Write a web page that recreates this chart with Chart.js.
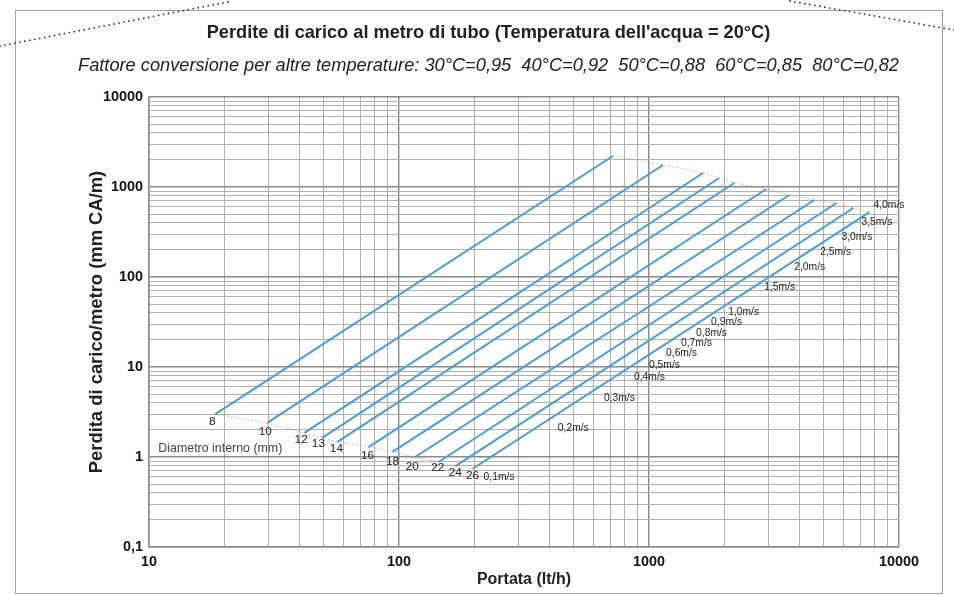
<!DOCTYPE html>
<html>
<head>
<meta charset="utf-8">
<title>Perdite di carico</title>
<script src="https://cdn.jsdelivr.net/npm/chart.js@4"></script>
<style>
  html, body { margin: 0; padding: 0; background: #fff; }
  #wrap { position: relative; width: 954px; height: 595px; }
</style>
</head>
<body>
<div id="wrap"><canvas id="chart"></canvas></div>
<script>
// diametri interni (mm) e estremi delle rette (0,1 m/s -> 4,0 m/s)
const diameters = [8, 10, 12, 13, 14, 16, 18, 20, 22, 24, 26];
const flowStart = [18.4, 29.7, 41.8, 49.3, 56.7, 75.5, 94.2, 116, 144, 168, 197];
const lossStart = [3.0, 2.39, 1.85, 1.63, 1.47, 1.29, 1.14, 1.0, 0.88, 0.79, 0.74];
const flowEnd = [717, 1138, 1645, 1909, 2192, 2944, 3640, 4585, 5620, 6570, 7620];
const lossEnd = [2210, 1755, 1431, 1259, 1108, 950, 815, 717, 664, 584, 527];

// posizione etichette diametri
const diamLabelFlow = [17.9, 29.2, 40.6, 47.6, 56.2, 74.8, 94.2, 113, 143, 168, 197];
const diamLabelLoss = [2.45, 1.90, 1.55, 1.39, 1.23, 1.03, 0.88, 0.774, 0.755, 0.664, 0.615];

// etichette velocita
const velocityLabels = ['0,1m/s', '0,2m/s', '0,3m/s', '0,4m/s', '0,5m/s', '0,6m/s', '0,7m/s', '0,8m/s',
  '0,9m/s', '1,0m/s', '1,5m/s', '2,0m/s', '2,5m/s', '3,0m/s', '3,5m/s', '4,0m/s'];
const velocityFlow = [218, 432, 660, 871, 1000, 1170, 1343, 1543, 1772, 2074, 2891, 3811, 4843, 5884, 7076, 7906];
const velocityLoss = [0.60, 2.10, 4.52, 7.74, 10.5, 14.3, 18.5, 23.9, 31.6, 40.8, 77.4, 129, 190, 278, 408, 631];

// tick labels
const xTickLabels = [10, 100, 1000, 10000];
const yTickLabels = [0.1, 1, 10, 100, 1000, 10000];

const TITLE = "Perdite di carico al metro di tubo (Temperatura dell'acqua = 20°C)";
const SUBTITLE = 'Fattore conversione per altre temperature: 30°C=0,95  40°C=0,92  50°C=0,88  60°C=0,85  80°C=0,82';
const X_TITLE = 'Portata (lt/h)';
const Y_TITLE = 'Perdita di carico/metro (mm CA/m)';

// the original uses a condensed face: use Liberation Sans Narrow when present
const probe = document.createElement('canvas').getContext('2d');
const measure = (font, text) => { probe.font = font; return probe.measureText(text).width; };
const hasNarrow = measure('20px "Liberation Sans Narrow", monospace', TITLE) !== measure('20px monospace', TITLE);
const FONT = hasNarrow ? '"Liberation Sans Narrow", "Liberation Sans", Arial, sans-serif'
                       : '"Liberation Sans", Arial, sans-serif';

// font size that makes a text as wide as in the reference
function fitSize(text, width, weight, style, maxSize) {
  const w = measure(`${style || 'normal'} ${weight || 'normal'} 100px ${FONT}`, text);
  return Math.min(maxSize || 99, Math.round(width / w * 1000) / 10);
}

const sTitle = fitSize(TITLE, 564, 'bold', 'normal', 21);
const sSub = fitSize(SUBTITLE, 825, 'normal', 'italic', 21);
const sXT = fitSize(X_TITLE, 94, 'bold', 'normal', 20);
const sYT = fitSize(Y_TITLE, 302, 'bold', 'normal', 21);
const sTick = fitSize('10000', 40, 'bold', 'normal', 18);
const sVel = fitSize('4,0m/s', 31, 'normal', 'normal', 13);
const sDiamTxt = fitSize('Diametro interno (mm)', 124, 'normal', 'normal', 13);
const sDiam = Math.min(13, sVel + 1.5);

// log grid: 1..9 per decade
function logGrid(labels) {
  const out = [];
  for (let i = 0; i < labels.length - 1; i++) {
    for (let k = 1; k < 10; k++) out.push(+(labels[i] * k).toPrecision(6));
  }
  out.push(labels[labels.length - 1]);
  return out.map(v => ({ value: v }));
}

function isMajor(v, labels) {
  return labels.some(l => Math.abs(l - v) < l * 1e-6);
}

const datasets = diameters.map((d, i) => ({
  label: d + ' mm',
  data: [{ x: flowStart[i], y: lossStart[i] }, { x: flowEnd[i], y: lossEnd[i] }],
  showLine: true,
  borderColor: '#4b9bd6',
  borderWidth: 2,
  pointRadius: 0
}));

// rette 0,1 m/s e 4,0 m/s (unione degli estremi)
datasets.push({
  label: '0,1 m/s',
  data: diameters.map((d, i) => ({ x: flowStart[i], y: lossStart[i] })),
  showLine: true,
  borderColor: 'rgba(190, 130, 100, 0.55)',
  borderWidth: 1,
  borderDash: [2, 2],
  pointRadius: 0
});
datasets.push({
  label: '4,0 m/s',
  data: diameters.map((d, i) => ({ x: flowEnd[i], y: lossEnd[i] })),
  showLine: true,
  borderColor: 'rgba(190, 130, 100, 0.55)',
  borderWidth: 1,
  borderDash: [2, 2],
  pointRadius: 0
});

const decorPlugin = {
  id: 'decor',
  beforeDraw(chart) {
    const ctx = chart.ctx;
    ctx.save();
    ctx.fillStyle = '#fff';
    ctx.fillRect(0, 0, chart.width, chart.height);
    // cornice
    ctx.strokeStyle = '#a0a0a0';
    ctx.lineWidth = 1;
    ctx.strokeRect(15.5, 10.5, 927, 583);
    // linee puntinate in alto
    ctx.fillStyle = '#333';
    const dots = (x1, y1, x2, y2) => {
      const len = Math.hypot(x2 - x1, y2 - y1);
      const n = Math.floor(len / 5);
      for (let k = 0; k <= n; k++) {
        const t = k / n;
        ctx.beginPath();
        ctx.arc(x1 + (x2 - x1) * t, y1 + (y2 - y1) * t, 0.9, 0, Math.PI * 2);
        ctx.fill();
      }
    };
    dots(0, 46, 228, 2);
    dots(790, 1, 954, 30);
    ctx.restore();
  },
  afterDatasetsDraw(chart) {
    const ctx = chart.ctx;
    const xs = chart.scales.x, ys = chart.scales.y;
    ctx.save();
    ctx.fillStyle = '#222';
    ctx.textBaseline = 'middle';
    ctx.textAlign = 'center';
    ctx.font = sDiam + 'px ' + FONT;
    diameters.forEach((d, i) => {
      ctx.fillText(String(d), xs.getPixelForValue(diamLabelFlow[i]), ys.getPixelForValue(diamLabelLoss[i]));
    });
    ctx.textAlign = 'left';
    ctx.font = sVel + 'px ' + FONT;
    velocityLabels.forEach((t, i) => {
      ctx.fillText(t, xs.getPixelForValue(velocityFlow[i]), ys.getPixelForValue(velocityLoss[i]));
    });
    ctx.font = sDiamTxt + 'px ' + FONT;
    ctx.fillStyle = '#444';
    ctx.fillText('Diametro interno (mm)', xs.getPixelForValue(10.9), ys.getPixelForValue(1.23));
    ctx.restore();
  }
};

new Chart(document.getElementById('chart'), {
  type: 'scatter',
  data: { datasets },
  plugins: [decorPlugin],
  options: {
    responsive: true,
    maintainAspectRatio: false,
    animation: false,
    layout: { padding: { left: 78, right: 55, top: 0, bottom: 4 } },
    plugins: {
      legend: { display: false },
      tooltip: { enabled: false },
      title: {
        display: true,
        text: TITLE,
        color: '#222',
        font: { family: FONT, size: sTitle, weight: 'bold' },
        padding: { top: 33 - 0.6 * sTitle, bottom: 33 - 0.6 * (sTitle + sSub) }
      },
      subtitle: {
        display: true,
        text: SUBTITLE,
        color: '#222',
        font: { family: FONT, size: sSub, style: 'italic' },
        padding: { top: 0, bottom: 31 - 0.6 * sSub }
      }
    },
    scales: {
      x: {
        type: 'logarithmic',
        min: 10,
        max: 10000,
        afterBuildTicks: s => { s.ticks = logGrid(xTickLabels); },
        afterFit: s => { s.height = 44; },
        border: { display: true, color: '#8a8a8a', width: 1.5 },
        grid: {
          drawTicks: false,
          color: c => isMajor(c.tick.value, xTickLabels) ? '#8a8a8a' : '#b0b0b0',
          lineWidth: c => isMajor(c.tick.value, xTickLabels) ? 1.4 : 1
        },
        ticks: {
          autoSkip: false,
          maxRotation: 0,
          padding: Math.max(0, 15 - 0.6 * sTick),
          color: '#111',
          font: { family: FONT, size: sTick, weight: 'bold' },
          callback: v => isMajor(v, xTickLabels) ? String(v) : ''
        },
        title: {
          display: true,
          text: X_TITLE,
          color: '#222',
          font: { family: FONT, size: sXT, weight: 'bold' },
          padding: { top: 0, bottom: Math.max(0, 11 - 0.6 * sXT) }
        }
      },
      y: {
        type: 'logarithmic',
        min: 0.1,
        max: 10000,
        afterBuildTicks: s => { s.ticks = logGrid(yTickLabels); },
        afterFit: s => { s.width = 71; },
        border: { display: true, color: '#8a8a8a', width: 1.5 },
        grid: {
          drawTicks: false,
          color: c => isMajor(c.tick.value, yTickLabels) ? '#8a8a8a' : '#b0b0b0',
          lineWidth: c => isMajor(c.tick.value, yTickLabels) ? 1.4 : 1
        },
        ticks: {
          autoSkip: false,
          padding: 6,
          color: '#111',
          font: { family: FONT, size: sTick, weight: 'bold' },
          callback: v => isMajor(v, yTickLabels) ? String(v).replace('.', ',') : ''
        },
        title: {
          display: true,
          text: Y_TITLE,
          color: '#222',
          font: { family: FONT, size: sYT, weight: 'bold' },
          padding: { top: 19 - 0.6 * sYT, bottom: 0 }
        }
      }
    }
  }
});
</script>
</body>
</html>
